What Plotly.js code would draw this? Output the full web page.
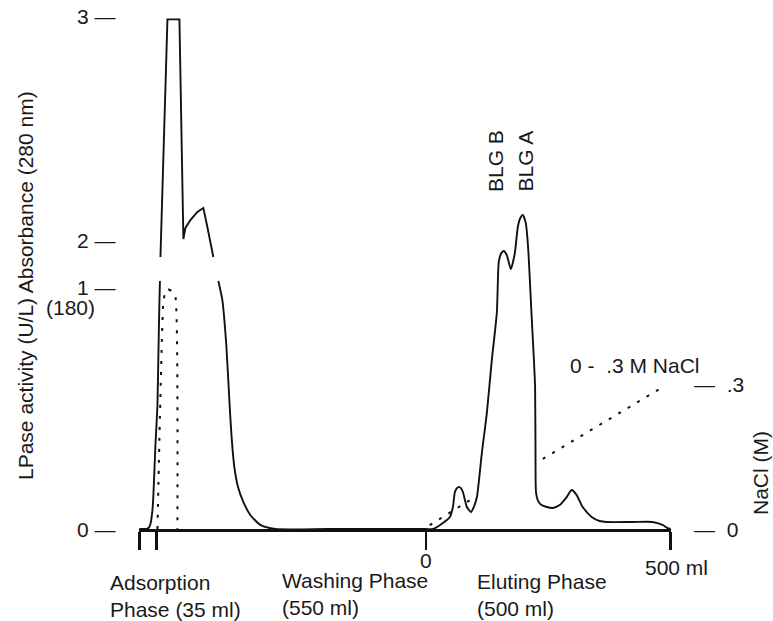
<!DOCTYPE html>
<html>
<head>
<meta charset="utf-8">
<script src="https://cdn.plot.ly/plotly-3.0.1.min.js"></script>
<style>html,body{margin:0;padding:0;background:#fff;}</style>
</head>
<body>
<div id="chart" style="width:773px;height:621px;"></div>
<script>
// ---------------- DATA (volume in ml relative to start of elution; absorbance / LPase / NaCl) -------------
// Absorbance, lower part of broken axis (0 - 1), adsorption peak rising edge
const absRiseX = [-585, -572.8, -566.6, -562.6, -558.5, -556.4, -552.4, -548.3, -546.2, -544.2, -543.2];
const absRiseY = [0, 0, 0.004, 0.021, 0.079, 0.149, 0.347, 0.512, 0.740, 0.946, 1.025];
// Absorbance, upper part of broken axis (2 - 3), adsorption peak top (off scale plateau at 3)
const absTopX = [-542.2, -527.9, -503.4, -495.3, -491.2, -481.0, -466.7, -454.5, -446.3, -434.1];
const absTopY = [1.924, 2.985, 2.985, 2.004, 2.054, 2.089, 2.125, 2.143, 2.058, 1.924];
// Absorbance, lower part: adsorption tail, washing phase, eluting phase
const absTailX = [-423.9, -415.7, -407.6, -401.4, -397.4, -391.2, -383.1, -372.9, -358.6, -338.2, -307.6, -200, -100,
  0, 15, 35, 49.3, 55.4, 59.5, 63.6, 67.6, 71.7, 75.8, 84.0, 92.1, 98.2, 104.4, 114.5, 124.7, 134.9, 145.1, 149.2,
  154.3, 159.4, 165.5, 173.7, 181.9, 188.0, 193.1, 198.2, 204.3, 209.0, 215.9, 221.2, 223.3, 224.1, 225.3, 229.4,
  236.3, 247.1, 259.4, 273.6, 287.9, 298.1, 308.3, 320.5, 338.9, 355.2, 369.5, 422.5, 463.3, 483.7, 493.9, 500];
const absTailY = [1.025, 0.946, 0.760, 0.533, 0.397, 0.256, 0.169, 0.112, 0.058, 0.017, 0, 0, 0,
  0, 0, 0.025, 0.050, 0.091, 0.153, 0.169, 0.174, 0.169, 0.153, 0.091, 0.070, 0.091, 0.132, 0.314, 0.479, 0.698, 0.893, 1.105,
  1.140, 1.149, 1.132, 1.074, 1.140, 1.248, 1.285, 1.298, 1.264, 1.165, 0.893, 0.686, 0.587, 0.339, 0.149, 0.116,
  0.099, 0.091, 0.087, 0.099, 0.132, 0.161, 0.140, 0.091, 0.050, 0.033, 0.029, 0.029, 0.029, 0.017, 0.004, 0];
// LPase activity (U/L), dotted
const lpaseX = [-548.3, -536.1, -532.0, -527.9, -519.7, -511.6, -507.5];
const lpaseY = [0, 170, 176, 178.5, 177, 172.6, 0];
// NaCl gradient (M), dotted; hidden behind the main peak
const naclX = [8, 94, null, 239, 488];
const naclY = [0.008, 0.062, null, 0.145, 0.296];
// Tick labels
const absLowTicks = [0, 1];
const absHighTicks = [2, 3];
const lpaseTick = 180;
const naclTickVals = [0, 0.3];
const naclTickText = ['0', '.3'];
const volTickVals = [-585, -550, 0, 500];
const volTickText = ['0', '500 ml'];
const phaseLabels = ['Adsorption<br>Phase (35 ml)', 'Washing Phase<br>(550 ml)', 'Eluting Phase<br>(500 ml)'];
const peakLabels = ['BLG B', 'BLG A'];
const gradientLabel = '0 -\u00a0\u00a0.3 M NaCl';
const leftTitle = 'LPase activity (U/L) Absorbance (280 nm)';
const rightTitle = 'NaCl (M)';

// ---------------- LAYOUT -------------
const WIDTH = 773, HEIGHT = 621;
const ML = 139, MR = 102, MT = 10, MB = 92;
const PW = WIDTH - ML - MR, PH = HEIGHT - MT - MB;
const fx = p => (p - ML) / PW;
const fy = p => (HEIGHT - MB - p) / PH;

const FONT = {family: 'Liberation Sans, Arial, Helvetica, sans-serif', size: 21, color: '#1a1a1a'};
const INK = '#111';
const lineStyle = {color: INK, width: 1.9};

const traces = [
  {x: absRiseX, y: absRiseY, yaxis: 'y', mode: 'lines', line: Object.assign({shape: 'spline', smoothing: 0.4}, lineStyle), hoverinfo: 'skip'},
  {x: absTopX, y: absTopY, yaxis: 'y2', mode: 'lines', line: Object.assign({shape: 'linear'}, lineStyle), hoverinfo: 'skip'},
  {x: absTailX, y: absTailY, yaxis: 'y', mode: 'lines', line: Object.assign({shape: 'spline', smoothing: 0.6}, lineStyle), hoverinfo: 'skip'},
  {x: lpaseX, y: lpaseY, yaxis: 'y4', mode: 'lines', line: {color: INK, width: 2, dash: '3px,8px', shape: 'spline', smoothing: 0.4}, hoverinfo: 'skip'},
  {x: naclX, y: naclY, yaxis: 'y3', mode: 'lines', connectgaps: false, line: {color: INK, width: 2, dash: '3px,8px'}, hoverinfo: 'skip'}
];

const ann = [];
absLowTicks.forEach(v => ann.push({xref: 'paper', yref: 'y', x: fx(118), y: v, xanchor: 'right', yanchor: 'middle', text: v + ' \u2014', showarrow: false}));
absHighTicks.forEach(v => ann.push({xref: 'paper', yref: 'y2', x: fx(118), y: v, xanchor: 'right', yanchor: 'middle', text: v + ' \u2014', showarrow: false}));
ann.push({xref: 'paper', yref: 'y4', x: fx(97), y: lpaseTick, yshift: -20, xanchor: 'right', yanchor: 'middle', text: '(' + lpaseTick + ')', showarrow: false});
naclTickVals.forEach((v, i) => ann.push({xref: 'paper', yref: 'y3', x: fx(692), y: v, xanchor: 'left', yanchor: 'middle', text: '\u2014\u00a0\u00a0' + naclTickText[i], showarrow: false}));
ann.push({xref: 'x', yref: 'paper', x: volTickVals[2], y: fy(560), xanchor: 'center', yanchor: 'middle', text: volTickText[0], showarrow: false});
ann.push({xref: 'x', yref: 'paper', x: volTickVals[3], xshift: 6, y: fy(567), xanchor: 'center', yanchor: 'middle', text: volTickText[1], showarrow: false});
[[108, 595.5], [280, 593.5], [475, 594.5]].forEach((p, i) => ann.push({xref: 'paper', yref: 'paper', x: fx(p[0]), y: fy(p[1]), xanchor: 'left', yanchor: 'middle', align: 'left', text: phaseLabels[i], showarrow: false}));
[495, 525].forEach((p, i) => ann.push({xref: 'paper', yref: 'paper', x: fx(p), y: fy(194), xanchor: 'center', yanchor: 'bottom', textangle: -90, text: peakLabels[i], showarrow: false}));
ann.push({xref: 'paper', yref: 'paper', x: fx(568), y: fy(365), xanchor: 'left', yanchor: 'middle', text: gradientLabel, showarrow: false});
ann.push({xref: 'paper', yref: 'paper', x: fx(760), y: fy(473), xanchor: 'center', yanchor: 'middle', textangle: -90, text: rightTitle, showarrow: false});
ann.push({xref: 'paper', yref: 'paper', x: fx(25), y: fy(286), xanchor: 'center', yanchor: 'middle', textangle: -90, text: leftTitle, showarrow: false});

const layout = {
  width: WIDTH, height: HEIGHT,
  margin: {l: ML, r: MR, t: MT, b: MB, pad: 0},
  paper_bgcolor: '#fff', plot_bgcolor: '#fff',
  font: FONT,
  showlegend: false,
  xaxis: {range: [-586, 501], showline: true, linecolor: INK, linewidth: 2.5, ticks: 'outside', ticklen: 18, tickwidth: 2.5, tickcolor: INK,
          tickmode: 'array', tickvals: volTickVals, showticklabels: false, showgrid: false, zeroline: false, fixedrange: true},
  yaxis: {range: [0, PH / 242], visible: false, fixedrange: true},
  yaxis2: {range: [2 - (HEIGHT - MB - 240) / 224, 3 + (16 - MT) / 224], overlaying: 'y', visible: false, fixedrange: true},
  yaxis3: {range: [0, PH / (145 / 0.3)], overlaying: 'y', side: 'right', visible: false, fixedrange: true},
  yaxis4: {range: [0, PH / 242 * lpaseTick], overlaying: 'y', visible: false, fixedrange: true},
  annotations: ann
};

Plotly.newPlot('chart', traces, layout, {staticPlot: true, displayModeBar: false});
</script>
</body>
</html>
